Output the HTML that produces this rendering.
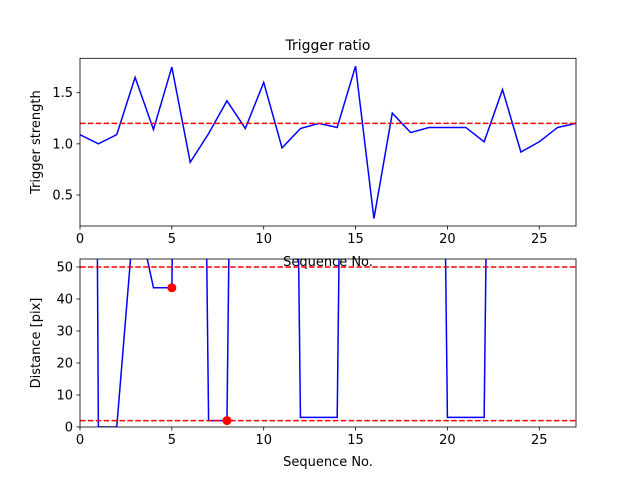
<!DOCTYPE html>
<html><head><meta charset="utf-8"><style>
html,body{margin:0;padding:0;background:#fff;}
svg{display:block;font-family:"DejaVu Sans","Liberation Sans",sans-serif;}
</style></head><body>
<svg id="fig" width="640" height="480" viewBox="0 0 640 480">
<rect width="640" height="480" fill="#fff"/>
<text x="328" y="50" font-size="14" text-anchor="middle">Trigger ratio</text>
<g id="top"></g>
<g id="bot"></g>
</svg>
<script>
const seqTop = [0,1,2,3,4,5,6,7,8,9,10,11,12,13,14,15,16,17,18,19,20,21,22,23,24,25,26,27];
const triggerStrength = [1.09,1.0,1.09,1.65,1.14,1.75,0.82,1.1,1.42,1.15,1.6,0.96,1.15,1.2,1.16,1.76,0.27,1.3,1.11,1.16,1.16,1.16,1.02,1.53,0.92,1.02,1.16,1.2];
const triggerThreshold = 1.2;
const topYTicks = [0.5,1.0,1.5];
const xTicks = [0,5,10,15,20,25];
const distance = [1000,0,0,70,43.5,43.5,500,2,2,500,500,500,3,3,3,500,500,500,500,500,3,3,3,500,500,500,500,500];
const distThresholds = [50,2];
const markerX = [5,8];
const markerY = [43.5,2];
const botYTicks = [0,10,20,30,40,50];

const NS="http://www.w3.org/2000/svg";
function mk(parent,tag,attrs){const e=document.createElementNS(NS,tag);for(const k in attrs)e.setAttribute(k,attrs[k]);parent.appendChild(e);return e;}

function axes(g,top,bottom,ymin,ymax,yticks,fmt,ylabel,xlabelY,clipId){
  const L=80,R=576;
  const xs=v=>L+(v-0)/27*(R-L);
  const ys=v=>bottom-(v-ymin)/(ymax-ymin)*(bottom-top);
  const defs=mk(g,'defs',{});
  const cp=mk(defs,'clipPath',{id:clipId});
  mk(cp,'rect',{x:L,y:top,width:R-L,height:bottom-top});
  xTicks.forEach(t=>{
    const l=mk(g,'line',{x1:xs(t),x2:xs(t),y1:bottom,y2:bottom+3.5,stroke:'#000','stroke-width':0.8});
    
    const tx=mk(g,'text',{x:xs(t),y:bottom+17,'font-size':13,'text-anchor':'middle'});tx.textContent=t;
    
  });
  yticks.forEach(t=>{
    const l=mk(g,'line',{x1:L-3.5,x2:L,y1:ys(t),y2:ys(t),stroke:'#000','stroke-width':0.8});
    
    const tx=mk(g,'text',{x:L-7,y:ys(t)+4.5,'font-size':13,'text-anchor':'end'});tx.textContent=fmt(t);
    
  });
  const yl=mk(g,'text',{x:0,y:0,'font-size':13,'text-anchor':'middle',transform:`translate(40,${(top+bottom)/2}) rotate(-90)`});
  yl.textContent=ylabel;
  const xl=mk(g,'text',{x:(L+R)/2,y:xlabelY,'font-size':13,'text-anchor':'middle'});
  xl.textContent='Sequence No.';
  const plot=mk(g,'g',{'clip-path':`url(#${clipId})`});
  return {xs,ys,plot,L,R,top,bottom};
}
function frame(g,a){
  const f=mk(g,'rect',{x:a.L,y:a.top,width:a.R-a.L,height:a.bottom-a.top,fill:'none',stroke:'#000','stroke-width':0.8});
  
}

// bottom first so top's xlabel overlaps like reference
const gb=document.getElementById('bot');
const b=axes(gb,259,427,0,52.5,botYTicks,v=>String(v),'Distance [pix]',466,'cb');
let pb=mk(b.plot,'polyline',{points:seqTop.map((x,i)=>b.xs(x)+','+b.ys(distance[i])).join(' '),fill:'none',stroke:'#0000ff','stroke-width':1.5});

distThresholds.forEach(t=>{
  const l=mk(b.plot,'line',{x1:b.L,x2:b.R,y1:b.ys(t),y2:b.ys(t),stroke:'#ff0000','stroke-width':1.5,'stroke-dasharray':'5.5,2.4'});
  
});
markerX.forEach((x,i)=>{
  const c=mk(b.plot,'circle',{cx:b.xs(x),cy:b.ys(markerY[i]),r:4.5,fill:'#ff0000'});
  
});
frame(gb,b);

const gt=document.getElementById('top');
const a=axes(gt,58.3,226,0.197,1.836,topYTicks,v=>v.toFixed(1),'Trigger strength',266,'ct');
let pt=mk(a.plot,'polyline',{points:seqTop.map((x,i)=>a.xs(x)+','+a.ys(triggerStrength[i])).join(' '),fill:'none',stroke:'#0000ff','stroke-width':1.5});

const th=mk(a.plot,'line',{x1:a.L,x2:a.R,y1:a.ys(triggerThreshold),y2:a.ys(triggerThreshold),stroke:'#ff0000','stroke-width':1.5,'stroke-dasharray':'5.5,2.4'});

frame(gt,a);
// redraw bottom frame top edge over top xlabel overlap
const cover=mk(gb,'rect',{x:80,y:259,width:496,height:0.1,fill:'none'});
</script>
</body></html>
